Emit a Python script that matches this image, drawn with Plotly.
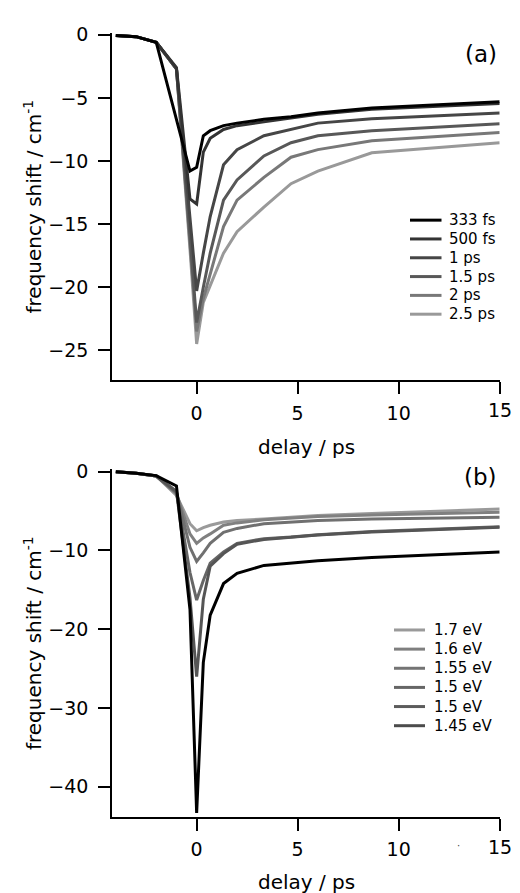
import plotly.graph_objects as go

W, H = 520, 893
FONT = "DejaVu Sans, Liberation Sans, Arial, sans-serif"

# ---- panel (a): pump-duration series -------------------------------------
delay_a = [-4, -3, -2, -1, -0.33, 0, 0.33, 0.67, 1.33, 2, 3.33, 4.67, 6, 8.67, 15]
pump_labels = ["333 fs", "500 fs", "1 ps", "1.5 ps", "2 ps", "2.5 ps"]
shift_333fs = [-0.05, -0.15, -0.6, -6.8, -10.8, -10.5, -8.0, -7.6, -7.2, -7.0, -6.7, -6.5, -6.2, -5.8, -5.3]
shift_500fs = [-0.05, -0.15, -0.6, -2.6, -13.0, -13.4, -9.3, -8.2, -7.5, -7.2, -6.9, -6.6, -6.3, -5.9, -5.45]
shift_1ps = [-0.05, -0.15, -0.6, -2.7, -14.5, -20.3, -17.3, -14.4, -10.3, -9.1, -8.0, -7.5, -7.0, -6.65, -6.2]
shift_1p5ps = [-0.05, -0.15, -0.6, -2.7, -16.0, -22.8, -20.0, -17.3, -13.1, -11.5, -9.6, -8.55, -8.0, -7.6, -7.05]
shift_2ps = [-0.05, -0.15, -0.6, -2.7, -16.5, -23.5, -20.9, -18.9, -15.2, -13.1, -11.3, -9.7, -9.1, -8.4, -7.75]
shift_2p5ps = [-0.05, -0.15, -0.6, -2.7, -17.0, -24.5, -21.2, -19.9, -17.3, -15.6, -13.65, -11.8, -10.8, -9.35, -8.55]
series_a = [shift_333fs, shift_500fs, shift_1ps, shift_1p5ps, shift_2ps, shift_2p5ps]
colors_a = ["#000000", "#333333", "#464646", "#585858", "#787878", "#999999"]

# ---- panel (b): probe-energy series --------------------------------------
delay_b = [-4, -3, -2, -1, -0.33, 0, 0.33, 0.67, 1.33, 2, 3.33, 4.67, 6, 8.67, 15]
probe_labels = ["1.7 eV", "1.6 eV", "1.55 eV", "1.5 eV", "1.5 eV", "1.45 eV"]
shift_1p7ev = [0, -0.2, -0.55, -3.0, -6.6, -7.5, -7.1, -6.8, -6.4, -6.2, -6.0, -5.8, -5.55, -5.3, -4.75]
shift_1p6ev = [0, -0.2, -0.55, -2.8, -7.9, -9.1, -8.4, -7.9, -6.8, -6.5, -6.1, -5.9, -5.7, -5.5, -5.15]
shift_1p55ev = [0, -0.2, -0.55, -2.7, -9.6, -11.4, -10.3, -9.1, -7.7, -7.2, -6.6, -6.4, -6.2, -6.0, -5.8]
shift_1p5ev_a = [0, -0.2, -0.55, -2.6, -12.8, -16.3, -13.8, -11.6, -10.2, -9.1, -8.5, -8.3, -8.0, -7.6, -7.0]
shift_1p5ev_b = [0, -0.2, -0.55, -2.5, -16.0, -26.0, -16.2, -12.0, -10.4, -9.2, -8.6, -8.35, -8.05, -7.65, -7.05]
shift_1p45ev = [0, -0.2, -0.5, -1.8, -17.5, -43.3, -24.2, -18.2, -14.2, -12.9, -11.9, -11.6, -11.3, -10.9, -10.2]
series_b = [shift_1p7ev, shift_1p6ev, shift_1p55ev, shift_1p5ev_a, shift_1p5ev_b, shift_1p45ev]
line_colors_b = ["#9a9a9a", "#808080", "#707070", "#666666", "#555555", "#000000"]
key_colors_b = ["#9a9a9a", "#7f7f7f", "#747474", "#666666", "#5c5c5c", "#4c4c4c"]

x_ticks = [0, 5, 10, 15]
x_tick_text = ["0", "5", "10", ""]   # the last label is placed separately, slightly raised


def px_x(p):
    return p / W


def px_y(p):
    return 1 - p / H


fig = go.Figure()

# lighter curves first so the darkest sit on top
for vals, col in reversed(list(zip(series_a, colors_a))):
    fig.add_trace(go.Scatter(x=delay_a, y=vals, mode="lines", xaxis="x", yaxis="y",
                             line=dict(color=col, width=3), showlegend=False))
for vals, col in zip(series_b, line_colors_b):
    fig.add_trace(go.Scatter(x=delay_b, y=vals, mode="lines", xaxis="x2", yaxis="y2",
                             line=dict(color=col, width=3), showlegend=False))

tick_font = dict(family=FONT, size=19, color="black")
axis_common = dict(showline=True, linecolor="black", linewidth=1.5, ticks="outside",
                   ticklen=12, tickwidth=1.5, tickcolor="black", showgrid=False,
                   zeroline=False, mirror=False, tickfont=tick_font)

x_dom = [px_x(112), px_x(499.7)]
fig.update_layout(
    width=W, height=H, margin=dict(l=0, r=0, t=0, b=0),
    paper_bgcolor="white", plot_bgcolor="white",
    xaxis=dict(domain=x_dom, range=[-4.19, 15.0], tickvals=x_ticks, ticktext=x_tick_text,
               anchor="y", ticklabelstandoff=3, **axis_common),
    yaxis=dict(domain=[px_y(375), px_y(24)], range=[-27.37, 0.16],
               tickvals=[0, -5, -10, -15, -20, -25], anchor="x",
               ticklabelstandoff=6, **axis_common),
    xaxis2=dict(domain=x_dom, range=[-4.19, 15.0], tickvals=x_ticks, ticktext=x_tick_text,
                anchor="y2", ticklabelstandoff=3, **axis_common),
    yaxis2=dict(domain=[px_y(816), px_y(465)], range=[-43.8, 0.3],
                tickvals=[0, -10, -20, -30, -40], anchor="x2",
                ticklabelstandoff=6, **axis_common),
)

annotations = []
shapes = []
title_font = dict(family=FONT, size=20, color="black")
for xref, y_center, x_title_y, tag, tag_y, last_tick_y in [
    ("x", 199.5, 442, "(a)", 45, 405),
    ("x2", 640.5, 882, "(b)", 473, 847),
]:
    annotations.append(dict(text="frequency shift / cm<sup>-1</sup>", textangle=-90,
                            x=px_x(33), y=px_y(y_center), xref="paper", yref="paper",
                            xanchor="center", yanchor="middle", showarrow=False,
                            font=title_font))
    annotations.append(dict(text="delay / ps", x=px_x(306), y=px_y(x_title_y),
                            xref="paper", yref="paper", xanchor="center", yanchor="middle",
                            showarrow=False, font=title_font))
    annotations.append(dict(text=tag, x=px_x(499), y=px_y(tag_y), xref="paper", yref="paper",
                            xanchor="right", yanchor="middle", showarrow=False,
                            font=dict(family=FONT, size=23, color="black")))
    annotations.append(dict(text=str(x_ticks[-1]), x=x_ticks[-1], y=px_y(last_tick_y),
                            xref=xref, yref="paper", xanchor="center", yanchor="middle",
                            showarrow=False, font=tick_font))

# stray dot beside the lower axis labels
annotations.append(dict(text="·", x=px_x(458), y=px_y(845), xref="paper", yref="paper",
                        xanchor="center", yanchor="middle", showarrow=False,
                        font=dict(family=FONT, size=10, color="#444444")))

# series keys
key_font = dict(family=FONT, size=15, color="black")
for labels, cols, x0, x1, xt, y0, dy in [
    (pump_labels, colors_a, 410, 441.5, 447, 213.3, 19.0),
    (probe_labels, key_colors_b, 394, 425, 432, 627.3, 19.34),
]:
    for i, (lab, col) in enumerate(zip(labels, cols)):
        yy = px_y(y0 + i * dy)
        shapes.append(dict(type="line", xref="paper", yref="paper", x0=px_x(x0), x1=px_x(x1),
                           y0=yy, y1=yy, line=dict(color=col, width=3)))
        annotations.append(dict(text=lab, x=px_x(xt), y=yy, xref="paper", yref="paper",
                                xanchor="left", yanchor="middle", showarrow=False,
                                font=key_font))

fig.update_layout(annotations=annotations, shapes=shapes)
fig.write_html("out.html")
